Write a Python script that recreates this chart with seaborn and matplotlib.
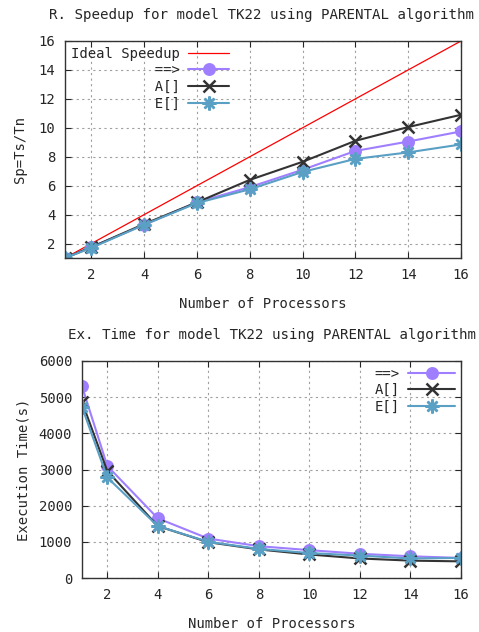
import matplotlib
matplotlib.use("Agg")
import matplotlib.pyplot as plt
import seaborn as sns

# data
procs = [1, 2, 4, 6, 8, 10, 12, 14, 16]
ideal_x = list(range(1, 17))
ideal_y = list(range(1, 17))

speed_arrow = [1.0, 1.75, 3.3, 4.85, 5.9, 7.1, 8.4, 9.05, 9.75]
speed_a = [1.0, 1.75, 3.35, 4.85, 6.4, 7.65, 9.1, 10.05, 10.9]
speed_e = [1.0, 1.7, 3.3, 4.8, 5.75, 6.95, 7.85, 8.3, 8.85]

time_arrow = [5300, 3100, 1650, 1090, 880, 770, 670, 600, 555]
time_a = [4870, 2960, 1435, 990, 790, 650, 540, 480, 460]
time_e = [4730, 2780, 1435, 1000, 805, 690, 620, 540, 555]

labels = ["==>", "A[]", "E[]"]
colors = ["#9f7fff", "#333333", "#5a9fc4"]
markers = ["o", "x", (8, 2, 0)]
msizes = [7.5, 8, 10]

sns.set_style("ticks")
plt.rcParams["font.family"] = ["DejaVu Sans Mono", "DejaVu Sans"]
plt.rcParams["font.size"] = 10

fig = plt.figure(figsize=(4.79, 6.32), dpi=100)
ax1 = fig.add_axes([65 / 479, 1 - 258 / 632, 396 / 479, 217 / 632])
ax2 = fig.add_axes([82 / 479, 1 - 578 / 632, 379 / 479, 217 / 632])


def pad(s, n):
    return " " * (n - len(s)) + s


# top: speedup
sns.lineplot(x=ideal_x, y=ideal_y, ax=ax1, color="red", linewidth=0.9,
             label="Ideal Speedup")
for lab, vals, c, m, ms in zip(labels, [speed_arrow, speed_a, speed_e],
                               colors, markers, msizes):
    sns.lineplot(x=procs, y=vals, ax=ax1, color=c, marker=m, markersize=ms,
                 linewidth=1.5, markeredgewidth=1.8, markeredgecolor=c,
                 label=pad(lab, 13))
ax1.set_xlim(1, 16)
ax1.set_ylim(1, 16)
ax1.set_xticks(range(2, 17, 2))
ax1.set_yticks(range(2, 17, 2))
ax1.set_xlabel("Number of Processors", labelpad=11)
ax1.set_ylabel("Sp=Ts/Tn", labelpad=8)
ax1.set_title("R. Speedup for model TK22 using PARENTAL algorithm",
              fontsize=10.2, pad=16, x=0.497)
ax1.legend(loc="upper left", frameon=False, markerfirst=False,
           handlelength=3.0, labelspacing=0.2, borderaxespad=0.2,
           borderpad=0.2, handletextpad=0.6)

# bottom: execution time
for lab, vals, c, m, ms in zip(labels, [time_arrow, time_a, time_e],
                               colors, markers, msizes):
    sns.lineplot(x=procs, y=vals, ax=ax2, color=c, marker=m, markersize=ms,
                 linewidth=1.5, markeredgewidth=1.8, markeredgecolor=c,
                 label=lab)
ax2.set_xlim(1, 16)
ax2.set_ylim(0, 6000)
ax2.set_xticks(range(2, 17, 2))
ax2.set_yticks(range(0, 6001, 1000))
ax2.set_xlabel("Number of Processors", labelpad=11)
ax2.set_ylabel("Execution Time(s)", labelpad=6)
ax2.set_title("Ex. Time for model TK22 using PARENTAL algorithm",
              fontsize=10.2, pad=16, x=0.5)
ax2.legend(loc="upper right", frameon=False, markerfirst=False,
           handlelength=3.4, labelspacing=0.2, borderaxespad=0.2,
           borderpad=0.2, handletextpad=0.6)

for ax in (ax1, ax2):
    ax.grid(True, linestyle=(0, (2, 3)), color="#a0a0a0", linewidth=0.8)
    ax.tick_params(direction="in", top=True, right=True, length=4,
                   labelsize=10, pad=7)
    for sp in ax.spines.values():
        sp.set_color("#333333")
        sp.set_linewidth(1.0)

fig.savefig("out.png", dpi=100)
